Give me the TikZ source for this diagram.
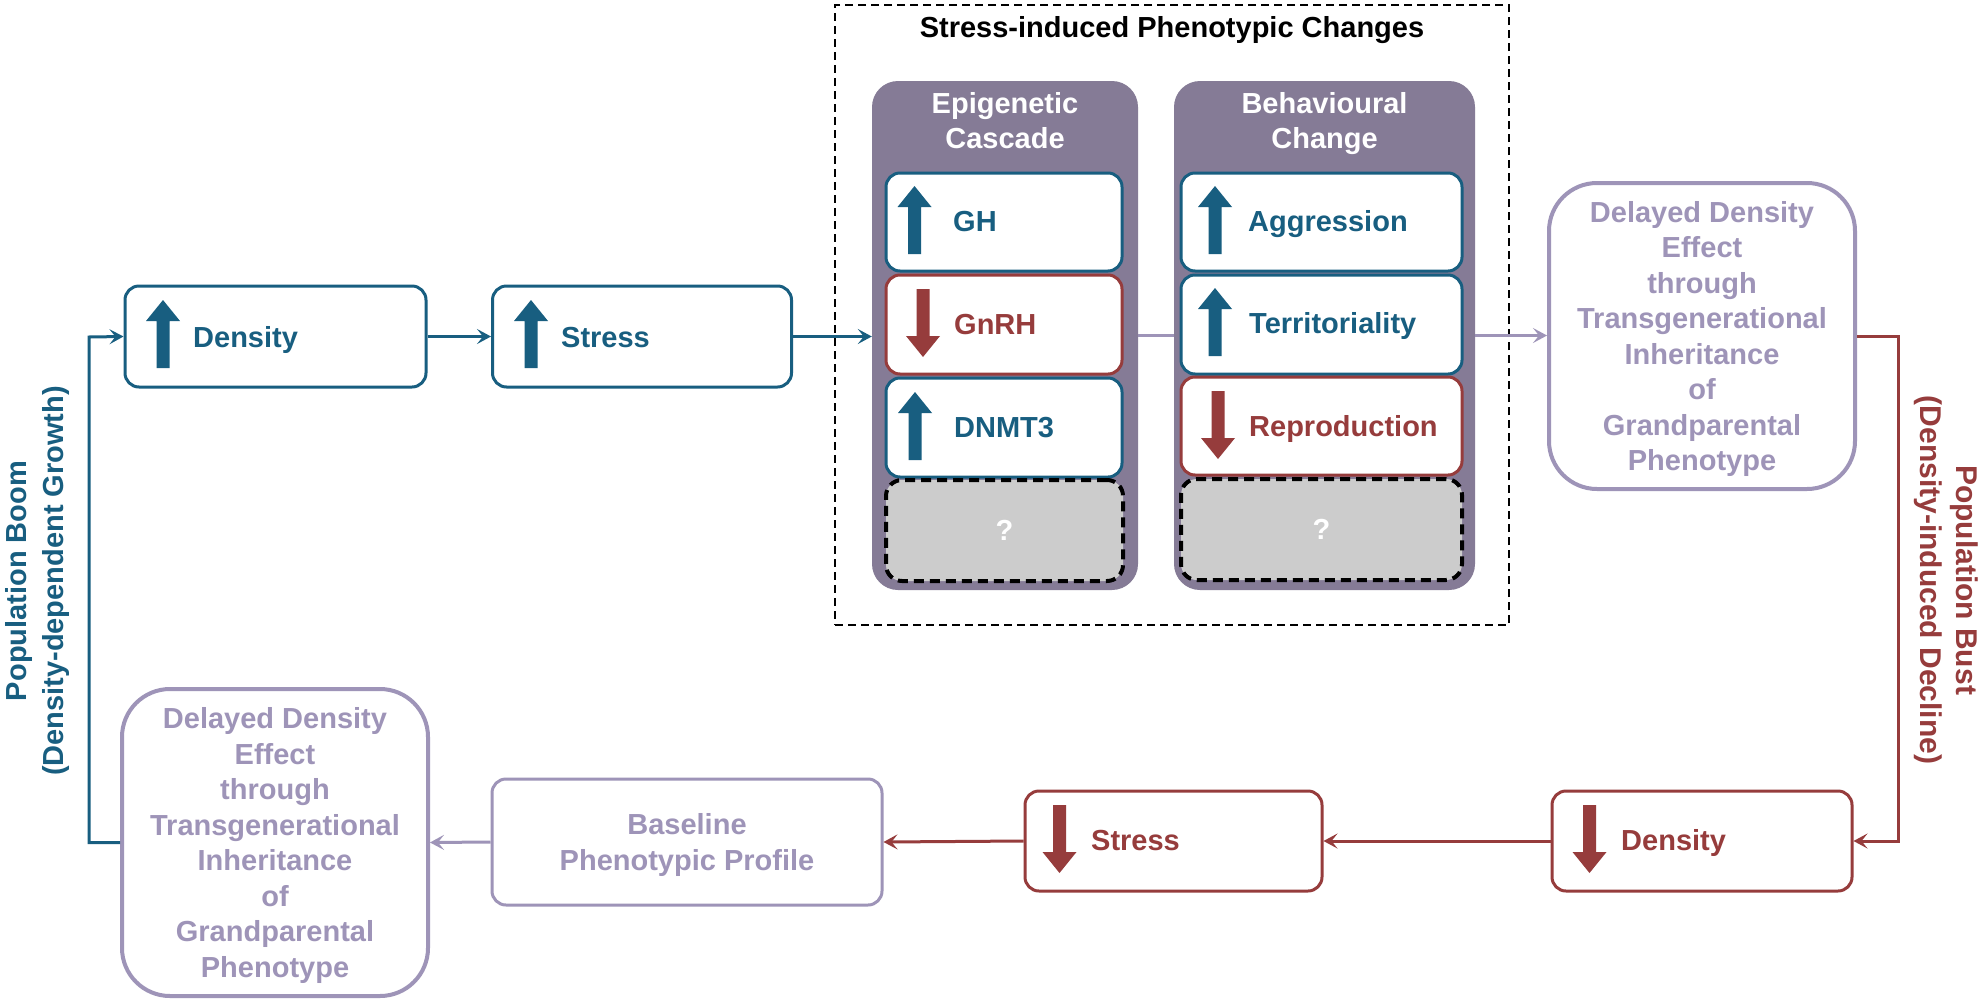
\documentclass[tikz,border=0pt]{standalone}
\usepackage{fontspec}
\setmainfont{Liberation Sans}
\usetikzlibrary{arrows.meta}
\definecolor{cblue}{RGB}{24,94,128}
\definecolor{cred}{RGB}{150,60,60}
\definecolor{clav}{RGB}{158,148,184}
\definecolor{cpanel}{RGB}{133,123,150}
\definecolor{cgray}{RGB}{204,204,204}
\newcommand\mainfs{\fontsize{29pt}{35.5pt}\selectfont\bfseries}
\begin{document}
\begin{tikzpicture}[x=1pt,y=-1pt,
  flowbox/.style={draw, line width=3pt, rounded corners=14pt, fill=white, inner sep=0pt},
  bluebox/.style={flowbox, draw=cblue},
  redbox/.style={flowbox, draw=cred},
  lavbox/.style={flowbox, draw=clav},
  bigbox/.style={lavbox, line width=4pt, rounded corners=48pt, minimum width=306pt, minimum height=306pt},
  panel/.style={fill=cpanel, rounded corners=26pt, inner sep=0pt, minimum height=509pt},
  qbox/.style={draw=black, fill=cgray, line width=4pt, dash pattern=on 10pt off 6pt, rounded corners=16pt, inner sep=0pt, minimum height=101pt},
  lbl/.style={font=\mainfs, inner sep=0pt},
  tlbl/.style={lbl, anchor=base west},
  conn/.style={line width=3pt},
  arr/.style={-{Stealth[length=14pt,width=15pt,inset=6pt]}},
  upicon/.pic={\fill (-6.5,34) -- (-6.5,-13) -- (-17,-13) -- (0,-34) -- (17,-13) -- (6.5,-13) -- (6.5,34) -- cycle;},
  downicon/.pic={\fill (-6.5,-34) -- (-6.5,13) -- (-17,13) -- (0,34) -- (17,13) -- (6.5,13) -- (6.5,-34) -- cycle;}
]
\fill[white] (0,0) rectangle (1984,1002);
\useasboundingbox (0,0) rectangle (1984,1002);

% frame
\node[draw=black, line width=2pt, dash pattern=on 8pt off 5pt, minimum width=674pt, minimum height=620pt, inner sep=0pt] (frame) at (1172,315) {};
\node[lbl, anchor=base, text=black] (ttitle) at (1172,37.5) {Stress-induced Phenotypic Changes};

% panels
\node[panel, minimum width=266pt] (epi) at (1005,335.5) {};
\node[panel, minimum width=301pt] (beh) at (1324.5,335.5) {};
\node[lbl, text=white, align=center] (tepi) at (1005,120.5) {Epigenetic\\Cascade};
\node[lbl, text=white, align=center] (tbeh) at (1324.5,123.5) {Behavioural\\Change};

\node[bluebox, minimum width=236pt, minimum height=98pt] (gh) at (1004,222) {};
\node[redbox, minimum width=236pt, minimum height=99pt] (gnrh) at (1004,324.5) {};
\node[bluebox, minimum width=236pt, minimum height=99pt] (dnmt) at (1004,427.5) {};
\node[qbox, minimum width=237pt] (q1) at (1004.5,530.5) {};
\node[bluebox, minimum width=281pt, minimum height=98pt] (aggr) at (1321.5,222) {};
\node[bluebox, minimum width=281pt, minimum height=99pt] (terr) at (1321.5,324.5) {};
\node[redbox, minimum width=281pt, minimum height=98pt] (repr) at (1321.5,426) {};
\node[qbox, minimum width=281pt] (q2) at (1321.5,529.5) {};

% main boxes
\node[bluebox, minimum width=301pt, minimum height=101pt] (dens1) at (275.5,336.5) {};
\node[bluebox, minimum width=299pt, minimum height=101pt] (str1) at (642,336.5) {};
\node[bigbox] (del1) at (1702,336) {};
\node[redbox, minimum width=300pt, minimum height=100pt] (dens2) at (1702,841) {};
\node[redbox, minimum width=297pt, minimum height=100pt] (str2) at (1173.5,841) {};
\node[lavbox, minimum width=390pt, minimum height=126pt] (base) at (687,842) {};
\node[bigbox, minimum height=307pt] (del2) at (275,842.5) {};

% connectors
\coordinate (rc) at (1898,841);
\coordinate (bc) at (89,337);
\draw[conn, cblue, arr] (dens1.east) -- (str1.west);
\draw[conn, cblue, arr] (str1.east) -- (str1.east -| epi.west);
\draw[conn, clav] (epi.east) -- (beh.west);
\draw[conn, clav, arr] (beh.east) -- (beh.east -| del1.west);
\draw[conn, cred, arr] (del1.east) -| (rc) -- (dens2.east);
\draw[conn, cred, arr] (dens2.west) -- (str2.east);
\draw[conn, cred, arr] (str2.west) -- (base.east);
\draw[conn, clav, arr] (base.west) -- (del2.east);
\draw[conn, cblue, arr] (del2.west) -| (bc) -- (dens1.west);

% texts
\node[tlbl, text=cblue] (tdens1) at (193,347) {Density};
\node[tlbl, text=cblue] (tstr1) at (561,347) {Stress};
\node[tlbl, text=cblue] (tgh) at (953,231) {GH};
\node[tlbl, text=cred] (tgnrh) at (954,334) {GnRH};
\node[tlbl, text=cblue] (tdnmt) at (954,437) {DNMT3};
\node[tlbl, text=cblue] (taggr) at (1248,231) {Aggression};
\node[tlbl, text=cblue] (tterr) at (1249,333) {Territoriality};
\node[tlbl, text=cred] (trepr) at (1249,436) {Reproduction};
\node[lbl, text=white] (tq1) at (1004.5,530.5) {?};
\node[lbl, text=white] (tq2) at (1321.5,529.5) {?};
\node[lbl, text=clav, align=center] (tdel1) at (1702,339) {Delayed Density\\Effect\\through\\Transgenerational\\Inheritance\\of\\Grandparental\\Phenotype};
\node[tlbl, text=cred] (tdens2) at (1621,850) {Density};
\node[tlbl, text=cred] (tstr2) at (1091,850) {Stress};
\node[lbl, text=clav, align=center, font=\fontsize{29pt}{36pt}\selectfont\bfseries] (tbase) at (687,845) {Baseline\\Phenotypic Profile};
\node[lbl, text=clav, align=center] (tdel2) at (275,845.5) {Delayed Density\\Effect\\through\\Transgenerational\\Inheritance\\of\\Grandparental\\Phenotype};
\node[lbl, text=cblue, align=center, rotate=90, font=\fontsize{29pt}{37pt}\selectfont\bfseries] (lboom) at (37.5,581) {Population Boom\\(Density-dependent Growth)};
\node[lbl, text=cred, align=center, rotate=-90, font=\fontsize{30pt}{36pt}\selectfont\bfseries] (lbust) at (1946,580) {Population Bust\\(Density-induced Decline)};

% icons
\pic[cblue] at (163,334) {upicon};
\pic[cblue] at (531,334) {upicon};
\pic[cblue] at (914.5,220) {upicon};
\pic[cred] at (923,323) {downicon};
\pic[cblue] at (915,426) {upicon};
\pic[cblue] at (1215,220) {upicon};
\pic[cblue] at (1215,322) {upicon};
\pic[cred] at (1218,425) {downicon};
\pic[cred] at (1589.5,839) {downicon};
\pic[cred] at (1059.5,839) {downicon};
\end{tikzpicture}
\end{document}
